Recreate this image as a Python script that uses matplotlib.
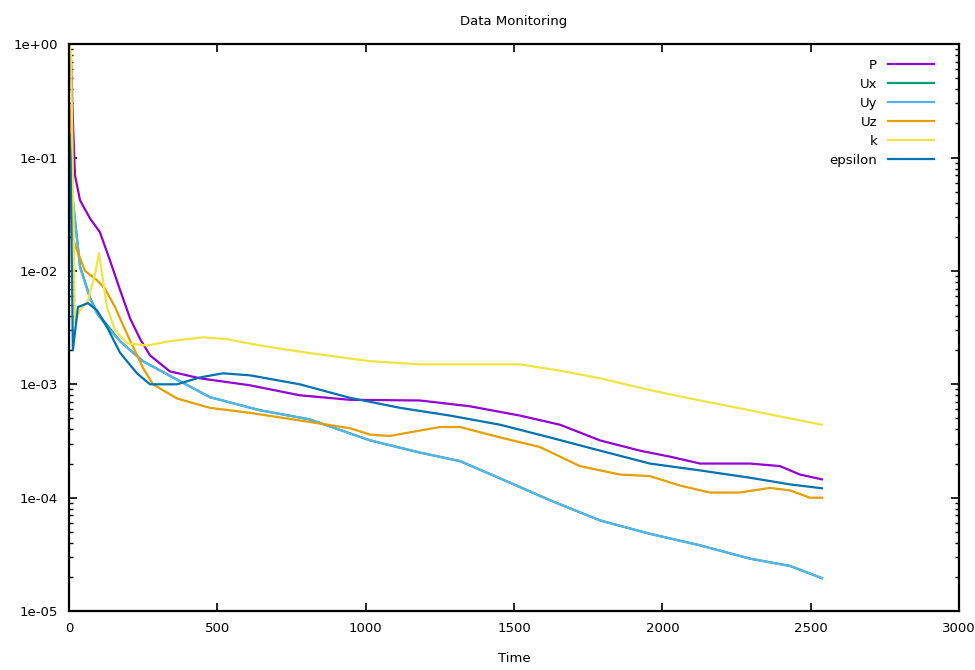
import matplotlib
matplotlib.use("Agg")
import matplotlib.pyplot as plt
from matplotlib.ticker import FixedLocator, FixedFormatter, LogLocator, NullFormatter

# residuals
t_p = [1, 7, 13, 20, 37, 71, 104, 138, 172, 206, 240, 273, 340, 441, 610, 778, 947, 1183,
       1351, 1520, 1655, 1790, 1924, 2026, 2127, 2295, 2396, 2464, 2538]
p = [1.0, 0.72, 0.21, 0.07, 0.042, 0.029, 0.022, 0.0124, 0.0068, 0.0038, 0.0025, 0.0018,
     0.0013, 0.00113, 0.00098, 0.0008, 0.00073, 0.00072, 0.00064, 0.00053, 0.00044,
     0.00032, 0.00026, 0.00023, 0.0002, 0.0002, 0.00019, 0.00016, 0.000145]

t_u = [1, 5, 13, 37, 71, 94, 138, 172, 249, 364, 475, 644, 812, 1015, 1183, 1318, 1453,
       1621, 1790, 1958, 2127, 2295, 2430, 2538]
ux = [0.2, 0.12, 0.042, 0.011, 0.0058, 0.0043, 0.0031, 0.0024, 0.0016, 0.0011, 0.00077,
      0.00059, 0.00049, 0.00032, 0.00025, 0.00021, 0.000148, 0.000095, 0.000063,
      0.000048, 0.000038, 0.000029, 0.000025, 0.0000195]
uy = [0.2, 0.12, 0.042, 0.0108, 0.0057, 0.0042, 0.003, 0.0024, 0.0016, 0.0011, 0.00077,
      0.00059, 0.00049, 0.00032, 0.00025, 0.00021, 0.000148, 0.000095, 0.000063,
      0.000048, 0.000038, 0.000029, 0.000025, 0.0000195]

t_uz = [1, 10, 13, 54, 94, 121, 155, 195, 249, 283, 364, 475, 610, 778, 947, 1015, 1080,
        1250, 1318, 1453, 1587, 1722, 1857, 1958, 2059, 2160, 2261, 2363, 2430, 2497, 2538]
uz = [0.3, 0.14, 0.019, 0.01, 0.0083, 0.007, 0.0048, 0.0028, 0.0014, 0.001, 0.00075,
      0.00062, 0.00056, 0.00048, 0.00041, 0.00036, 0.00035, 0.00042, 0.00042, 0.00034,
      0.00028, 0.00019, 0.00016, 0.000155, 0.000128, 0.000111, 0.000111, 0.000122,
      0.000116, 0.0001, 0.0001]

t_k = [1, 7, 13, 20, 37, 64, 88, 101, 111, 128, 155, 195, 263, 340, 452, 532, 644, 802,
       1015, 1183, 1351, 1520, 1655, 1790, 1958, 2127, 2295, 2430, 2538]
k = [1.0, 0.83, 0.063, 0.0035, 0.0045, 0.0055, 0.0095, 0.0144, 0.0095, 0.0048, 0.003,
     0.0023, 0.0022, 0.0024, 0.0026, 0.0025, 0.0022, 0.0019, 0.0016, 0.0015, 0.0015,
     0.0015, 0.00132, 0.00113, 0.00089, 0.00072, 0.00059, 0.0005, 0.00044]

t_eps = [1, 5, 13, 30, 64, 94, 128, 172, 229, 273, 364, 441, 519, 610, 778, 947, 1116,
         1284, 1453, 1621, 1790, 1958, 2127, 2295, 2430, 2538]
eps = [0.16, 0.1, 0.002, 0.0048, 0.0052, 0.0045, 0.0032, 0.0019, 0.00125, 0.001, 0.001,
       0.00115, 0.00125, 0.0012, 0.001, 0.00076, 0.00062, 0.00053, 0.00044, 0.00034,
       0.00026, 0.0002, 0.000174, 0.00015, 0.000131, 0.000121]

series = [
    ("P", t_p, p, "#9400D3"),
    ("Ux", t_u, ux, "#009E73"),
    ("Uy", t_u, uy, "#56B4E9"),
    ("Uz", t_uz, uz, "#E69F00"),
    ("k", t_k, k, "#F0E442"),
    ("epsilon", t_eps, eps, "#0072B2"),
]

xticks = [0, 500, 1000, 1500, 2000, 2500, 3000]
yticks = [1e-5, 1e-4, 1e-3, 1e-2, 1e-1, 1e0]
ytick_labels = ["1e-05", "1e-04", "1e-03", "1e-02", "1e-01", "1e+00"]

plt.rcParams['font.family'] = ['DejaVu Sans']
fs = 9.5

fig = plt.figure(figsize=(9.75, 6.7), dpi=100)
ax = fig.add_axes([0.0708, 0.088, 0.9128, 0.846])

for name, t, vals, color in series:
    ax.plot(t, vals, color=color, lw=1.6, label=name)

ax.set_yscale("log")
ax.set_xlim(0, 3000)
ax.set_ylim(1e-5, 1e0)

ax.xaxis.set_major_locator(FixedLocator(xticks))
ax.yaxis.set_major_locator(FixedLocator(yticks))
ax.yaxis.set_major_formatter(FixedFormatter(ytick_labels))
ax.yaxis.set_minor_locator(LogLocator(base=10, subs=range(2, 10)))
ax.yaxis.set_minor_formatter(NullFormatter())

ax.tick_params(axis="both", which="major", direction="in", length=6, width=1.2,
               top=True, right=True, labelsize=fs, pad=8)
ax.tick_params(axis="both", which="minor", direction="in", length=3, width=1.0,
               top=True, right=True)
for s in ax.spines.values():
    s.set_linewidth(1.6)

ax.set_title("Data Monitoring", fontsize=fs, pad=14)
ax.set_xlabel("Time", fontsize=fs, labelpad=12)

ax.legend(loc="upper right", bbox_to_anchor=(0.985, 0.995), frameon=False,
          markerfirst=False, handlelength=3.5, handletextpad=0.8,
          labelspacing=0.45, fontsize=fs)

fig.savefig("out.png", dpi=100)
